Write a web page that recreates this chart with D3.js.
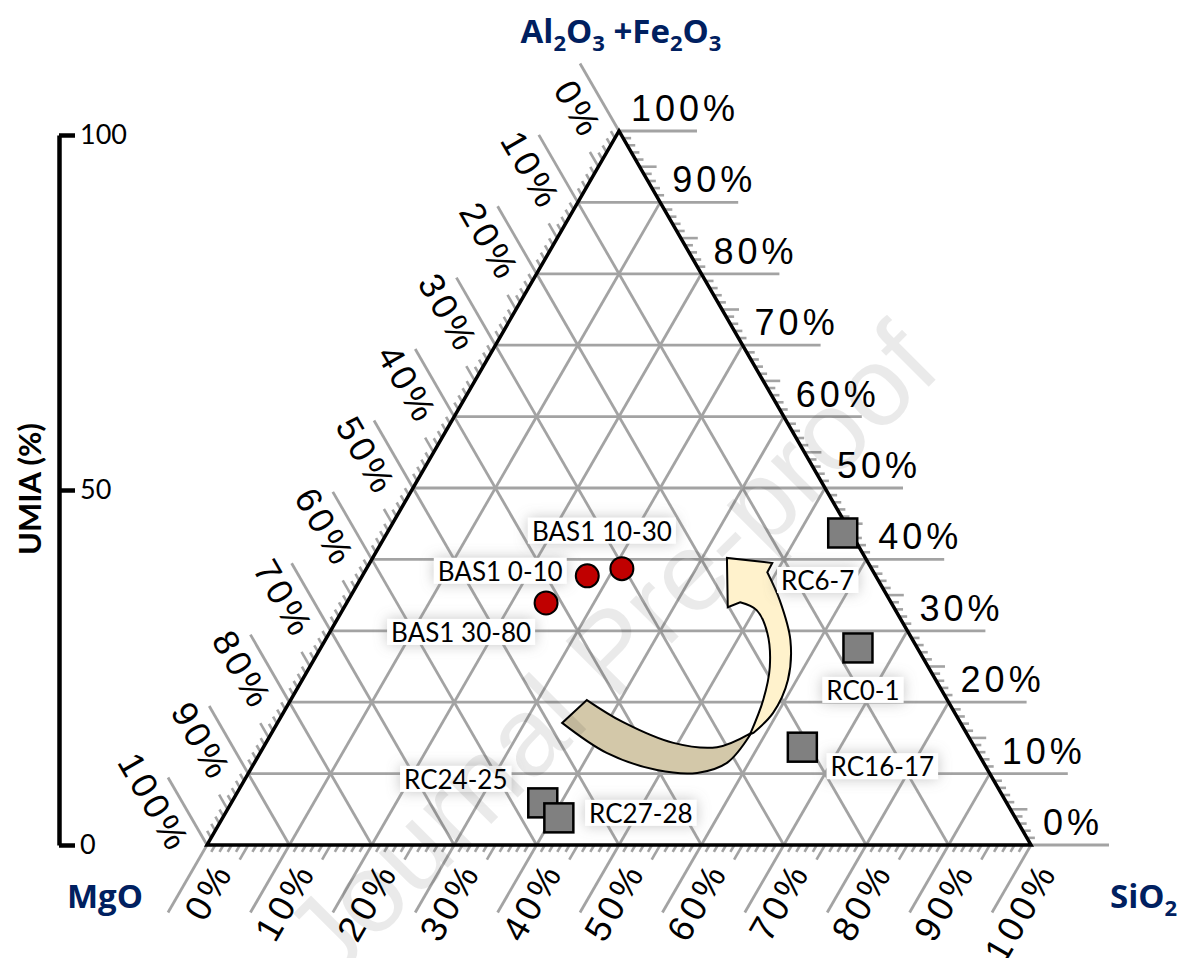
<!DOCTYPE html>
<html lang="en">
<head>
<meta charset="UTF-8">
<title>Ternary diagram</title>
<script src="https://cdn.jsdelivr.net/npm/d3@7"></script>
<style>
	body {
		margin: 0;
		background: #fff;
	}
	.tick-label {
		font-family: "Liberation Sans", Arial, sans-serif;
		font-size: 36px;
		letter-spacing: 4px;
		fill: #000;
	}
	.apex {
		font-family: "Open Sans", sans-serif;
		font-weight: bold;
		font-size: 33px;
		fill: #002060;
	}
	.pt-label {
		font-family: Lato, sans-serif;
		font-size: 26px;
		fill: #000;
	}
	.grid {
		stroke: #a3a3a3;
		stroke-width: 2.8;
		fill: none;
	}
</style>
</head>
<body>
<div id="chart"></div>
<script>
// sample compositions in %
var sampleNames = ['BAS1 10-30', 'BAS1 0-10', 'BAS1 30-80', 'RC6-7', 'RC0-1', 'RC16-17', 'RC24-25', 'RC27-28'];
var sampleGroup = ['BAS1', 'BAS1', 'BAS1', 'RC', 'RC', 'RC', 'RC', 'RC'];
var mgo  = [30.3, 35.0, 41.9, 1.0, 7.2, 20.9, 56.3, 55.4];
var sio2 = [31.0, 27.3, 24.2, 55.3, 65.2, 65.4, 37.8, 40.8];
var alfe = [38.7, 37.7, 33.9, 43.7, 27.6, 13.7, 5.9, 3.8];

var pctTicks = d3.range(0, 101, 10);
var minorTicks = d3.range(1, 100).filter(function (d) { return d % 10 !== 0; });
var umiaTicks = [0, 50, 100];

// layout
var W = 1190, H = 958;
var ext = 78;
var labelOffsets = [[-20, -37], [-87, -4], [-85, 30], [-25, 48], [5, 43], [80, 20], [-87, -23], [82, -4]];

var svg = d3.select('#chart').append('svg')
	.attr('width', W)
	.attr('height', H);

var defs = svg.append('defs');
var glow = defs.append('filter').attr('id', 'glow')
	.attr('x', '-40%').attr('y', '-100%').attr('width', '180%').attr('height', '300%');
glow.append('feGaussianBlur').attr('in', 'SourceAlpha').attr('stdDeviation', 7).attr('result', 'blur');
glow.append('feFlood').attr('flood-color', '#808080').attr('flood-opacity', 0.45).attr('result', 'col');
glow.append('feComposite').attr('in', 'col').attr('in2', 'blur').attr('operator', 'in').attr('result', 'shadow');
var merge = glow.append('feMerge');
merge.append('feMergeNode').attr('in', 'shadow');
merge.append('feMergeNode').attr('in', 'SourceGraphic');

// ternary frame: x runs along the base, y up the height
var x = d3.scaleLinear().domain([0, 100]).range([207, 1031]);
var y = d3.scaleLinear().domain([0, 100]).range([845, 131]);

function proj(si, al) {
	return [x(si + al / 2), y(al)];
}

function unit(p, q) {
	var dx = q[0] - p[0], dy = q[1] - p[1], l = Math.hypot(dx, dy);
	return [dx / l, dy / l];
}

var A = proj(0, 0), B = proj(100, 0), C = proj(0, 100);
var dirLeft = unit(B, C);
var dirBottom = unit(C, A);
var dirRight = [1, 0];

var g = svg.append('g');

// inner grid
var inner = d3.range(10, 100, 10);
var gridSegs = [];
inner.forEach(function (v) {
	gridSegs.push([proj(0, v), proj(100 - v, v)]);
	gridSegs.push([proj(0, 100 - v), proj(100 - v, 0)]);
	gridSegs.push([proj(v, 0), proj(v, 100 - v)]);
});

// short segments sticking out of the three sides
function axisSegs(vals, len5, len) {
	var segs = [];
	vals.forEach(function (v) {
		var l = len === undefined ? (v % 5 === 0 ? len5 : 8) : len;
		var r = proj(100 - v, v);
		segs.push([r, [r[0] + dirRight[0] * l, r[1] + dirRight[1] * l]]);
		var lf = proj(0, 100 - v);
		segs.push([lf, [lf[0] + dirLeft[0] * l, lf[1] + dirLeft[1] * l]]);
		var b = proj(v, 0);
		segs.push([b, [b[0] + dirBottom[0] * l, b[1] + dirBottom[1] * l]]);
	});
	return segs;
}

g.selectAll('.gridline')
	.data(gridSegs.concat(axisSegs(pctTicks, 0, ext)))
	.enter().append('line')
	.attr('class', 'grid')
	.attr('x1', function (d) { return d[0][0]; })
	.attr('y1', function (d) { return d[0][1]; })
	.attr('x2', function (d) { return d[1][0]; })
	.attr('y2', function (d) { return d[1][1]; });

g.selectAll('.minor')
	.data(axisSegs(minorTicks, 17))
	.enter().append('line')
	.attr('class', 'grid')
	.style('stroke-width', 2.6)
	.attr('x1', function (d) { return d[0][0]; })
	.attr('y1', function (d) { return d[0][1]; })
	.attr('x2', function (d) { return d[1][0]; })
	.attr('y2', function (d) { return d[1][1]; });

// triangle outline
g.append('path')
	.attr('d', 'M' + A + 'L' + B + 'L' + C + 'Z')
	.attr('fill', 'none')
	.attr('stroke', '#000')
	.attr('stroke-width', 3.5)
	.attr('stroke-linejoin', 'miter');

// tick labels
var fmt = function (v) { return v + '%'; };

g.selectAll('.lab-right')
	.data(pctTicks)
	.enter().append('text')
	.attr('class', 'tick-label')
	.attr('x', function (v) { return proj(100 - v, v)[0] + 12; })
	.attr('y', function (v) { return proj(100 - v, v)[1] - 10; })
	.text(fmt);

g.selectAll('.lab-left')
	.data(pctTicks)
	.enter().append('text')
	.attr('class', 'tick-label')
	.attr('text-anchor', 'end')
	.attr('transform', function (v) { var p = proj(0, 100 - v); return 'translate(' + p + ') rotate(60)'; })
	.attr('x', -9)
	.attr('y', 37)
	.text(fmt);

g.selectAll('.lab-bottom')
	.data(pctTicks)
	.enter().append('text')
	.attr('class', 'tick-label')
	.attr('text-anchor', 'end')
	.attr('transform', function (v) { var p = proj(v, 0); return 'translate(' + p + ') rotate(-60)'; })
	.attr('x', -9)
	.attr('y', 37)
	.text(fmt);

// curved arrow (frame percentages)
var arrowTanOuter = [[43.1, 17.1], [48.5, 12.9], [54.6, 10.5], [59.5, 10.1], [63.1, 11.5], [65.9, 15.4]];
var arrowTanInner = [[65.9, 15.6], [61.9, 13.7], [56.6, 14.3], [50.5, 17.2], [46.1, 20.3]];
var arrowCreamIn = [[65.9, 15.5], [67.5, 20.3], [68.3, 24.9], [68.0, 29.7], [66.7, 32.9], [64.7, 34.0]];
var arrowHead = [[63.2, 33.3], [63.1, 40.2], [68.6, 39.5]];
var arrowCreamOut = [[68.0, 38.2], [69.5, 34.3], [70.8, 28.7], [70.5, 23.1], [68.7, 18.5], [66.3, 15.7]];

var curve = d3.line()
	.x(function (d) { return x(d[0]); })
	.y(function (d) { return y(d[1]); })
	.curve(d3.curveCatmullRom);
var straight = d3.line()
	.x(function (d) { return x(d[0]); })
	.y(function (d) { return y(d[1]); });

function join(parts) {
	return parts.map(function (p, i) { return i ? p.replace(/^M/, 'L') : p; }).join('') + 'Z';
}

g.append('path')
	.attr('d', join([curve(arrowTanOuter), curve(arrowTanInner)]))
	.attr('fill', '#d3c8a9')
	.attr('stroke', '#000')
	.attr('stroke-width', 2);

g.append('path')
	.attr('d', join([curve(arrowCreamIn), straight(arrowHead), curve(arrowCreamOut)]))
	.attr('fill', '#fff2cc')
	.attr('stroke', '#000')
	.attr('stroke-width', 2)
	.attr('stroke-linejoin', 'miter');

// samples
var samples = sampleNames.map(function (n, i) {
	var p = proj(sio2[i], alfe[i]);
	return { name: n, group: sampleGroup[i], px: p[0], py: p[1], off: labelOffsets[i] };
});

var labs = g.selectAll('.pt-lab')
	.data(samples)
	.enter().append('g');

labs.append('text')
	.attr('class', 'pt-label')
	.attr('text-anchor', 'middle')
	.attr('x', function (d) { return d.px + d.off[0]; })
	.attr('y', function (d) { return d.py + d.off[1] + 9; })
	.text(function (d) { return d.name; });

labs.each(function () {
	var t = d3.select(this).select('text');
	var bb = t.node().getBBox();
	d3.select(this).insert('rect', 'text')
		.attr('x', bb.x - 4)
		.attr('y', bb.y + 3)
		.attr('width', bb.width + 8)
		.attr('height', bb.height - 6)
		.attr('fill', '#fff')
		.attr('filter', 'url(#glow)');
});

var rs = 29;
g.selectAll('.sq')
	.data(samples.filter(function (d) { return d.group === 'RC'; }))
	.enter().append('rect')
	.attr('x', function (d) { return d.px - rs / 2; })
	.attr('y', function (d) { return d.py - rs / 2; })
	.attr('width', rs)
	.attr('height', rs)
	.attr('fill', '#808080')
	.attr('stroke', '#000')
	.attr('stroke-width', 2.5);

g.selectAll('.dot')
	.data(samples.filter(function (d) { return d.group === 'BAS1'; }))
	.enter().append('circle')
	.attr('cx', function (d) { return d.px; })
	.attr('cy', function (d) { return d.py; })
	.attr('r', 11.5)
	.attr('fill', '#c00000')
	.attr('stroke', '#000')
	.attr('stroke-width', 2);

// apex titles
var apexTop = svg.append('text').attr('class', 'apex').attr('text-anchor', 'middle')
	.attr('x', 621).attr('y', 43);
var topParts = [['Al', 0], ['2', 1], ['O', 0], ['3', 1], [' +Fe', 0], ['2', 1], ['O', 0], ['3', 1]];
topParts.forEach(function (p, i) {
	var prevSub = i > 0 && topParts[i - 1][1];
	apexTop.append('tspan')
		.attr('dy', p[1] && !prevSub ? 8 : (!p[1] && prevSub ? -8 : 0))
		.style('font-size', p[1] ? '22px' : null)
		.text(p[0]);
});

svg.append('text').attr('class', 'apex')
	.attr('x', 67).attr('y', 908)
	.text('MgO');

var si = svg.append('text').attr('class', 'apex')
	.attr('x', 1110).attr('y', 908);
si.append('tspan').text('SiO');
si.append('tspan').attr('dy', 8).style('font-size', '22px').text('2');

// UMIA axis
var yU = d3.scaleLinear().domain([0, 100]).range([845, 135]);
var ax = svg.append('g')
	.attr('transform', 'translate(59,0)')
	.call(d3.axisRight(yU).tickValues(umiaTicks).tickSize(16).tickSizeOuter(0).tickPadding(5));
ax.select('.domain').attr('stroke-width', 4.5);
ax.selectAll('.tick line').attr('stroke-width', 4.5);
ax.selectAll('.tick text')
	.attr('font-family', 'Lato, sans-serif')
	.attr('font-size', 27)
	.attr('fill', '#000');

svg.append('text')
	.attr('transform', 'translate(41,489) rotate(-90)')
	.attr('text-anchor', 'middle')
	.style('font-family', 'Lato, sans-serif')
	.style('font-weight', 'bold')
	.style('font-size', '31px')
	.text('UMIA (%)');

// watermark
svg.append('text')
	.attr('transform', 'translate(610,650) rotate(-45)')
	.attr('text-anchor', 'middle')
	.attr('dy', '0.35em')
	.style('font-family', '"Liberation Sans", Arial, sans-serif')
	.style('font-size', '112px')
	.style('fill', '#000')
	.style('opacity', 0.08)
	.text('Journal Pre-proof');
</script>
</body>
</html>
